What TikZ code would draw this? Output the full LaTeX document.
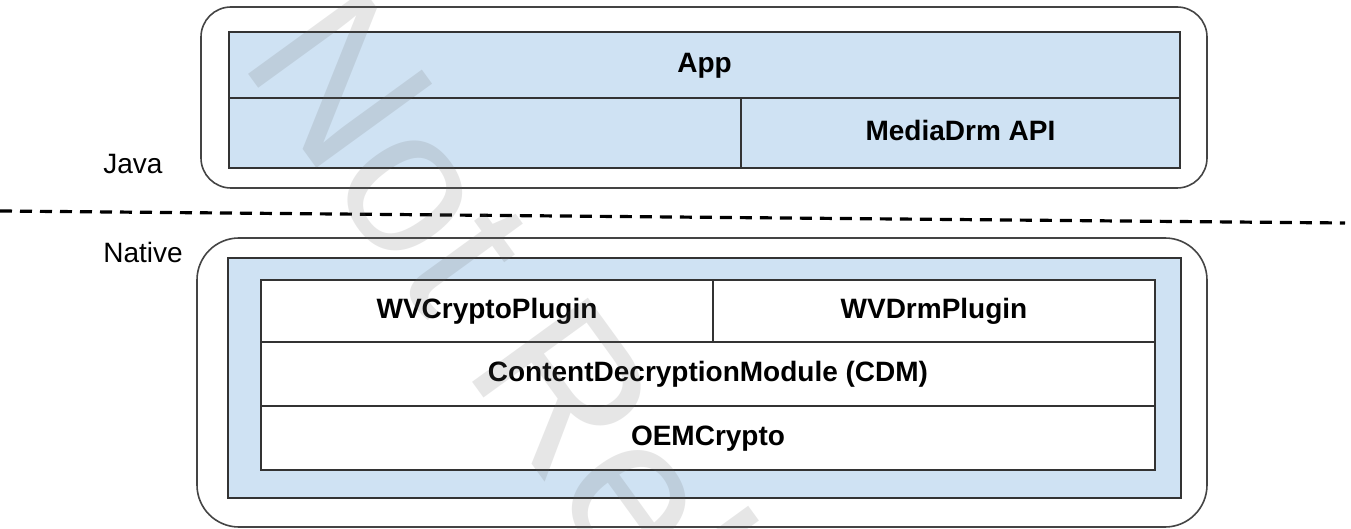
\documentclass[tikz,border=0pt]{standalone}
\usepackage{fontspec}
\setmainfont{Liberation Sans}
\definecolor{cellblue}{HTML}{CFE2F3}
\definecolor{linegray}{HTML}{333333}
\definecolor{roundgray}{HTML}{444444}
\tikzset{
  px/.style={x=0.5pt,y=-0.5pt},
  layer/.style={draw=roundgray, line width=0.8pt, fill=white, rounded corners=#1, inner sep=0pt},
  bluebox/.style={draw=linegray, line width=1pt, fill=cellblue, inner sep=0pt},
  cellbox/.style={draw=linegray, line width=1pt, inner sep=0pt, font=\fontsize{14}{16}\selectfont\bfseries, text height=0.72em, text depth=0pt},
  sidelabel/.style={anchor=base west, inner sep=0pt, font=\fontsize{14}{16}\selectfont},
  divider/.style={draw=black, line width=1.6pt, dash pattern=on 6pt off 4pt},
  watermark/.style={anchor=base west, inner sep=0pt, rotate=-54, text=black!60, text opacity=0.16, font=\fontsize{104}{110}\selectfont}
}
\begin{document}
\begin{tikzpicture}[px]
\useasboundingbox (0,0) rectangle (1351,529);
% Java layer
\node[layer=15pt, minimum width=503pt, minimum height=90.5pt] (java) at (704,97.5) {};
\node[cellbox, fill=cellblue, minimum width=475.5pt, minimum height=33pt] (app) at (704.5,65) {App};
\node[cellbox, fill=cellblue, minimum width=256pt, minimum height=35pt] (appempty) at (485,133) {};
\node[cellbox, fill=cellblue, minimum width=219.5pt, minimum height=35pt] (mediadrm) at (960.5,133) {MediaDrm API};
% labels
\node[sidelabel] (javalabel) at (103,174) {Java};
\node[sidelabel] (nativelabel) at (103,263) {Native};
% dashed separator
\coordinate (dl) at (0,211);
\coordinate (dr) at (1345,223);
\draw[divider] (dl) -- (dr);
% Native layer
\node[layer=21pt, minimum width=505pt, minimum height=144.5pt] (native) at (702,382.5) {};
\node[bluebox, minimum width=476.5pt, minimum height=120pt] (nativeblue) at (704.5,378) {};
\node[cellbox, fill=white, minimum width=226pt, minimum height=31pt] (wvcrypto) at (487,311) {WVCryptoPlugin};
\node[cellbox, fill=white, minimum width=221pt, minimum height=31pt] (wvdrm) at (934,311) {WVDrmPlugin};
\node[cellbox, fill=white, minimum width=447pt, minimum height=32pt] (cdm) at (708,374) {ContentDecryptionModule (CDM)};
\node[cellbox, fill=white, minimum width=447pt, minimum height=32pt] (oem) at (708,438) {OEMCrypto};
% watermark
\node[watermark] (wm) at (238,60) {Not Released};
\end{tikzpicture}
\end{document}
